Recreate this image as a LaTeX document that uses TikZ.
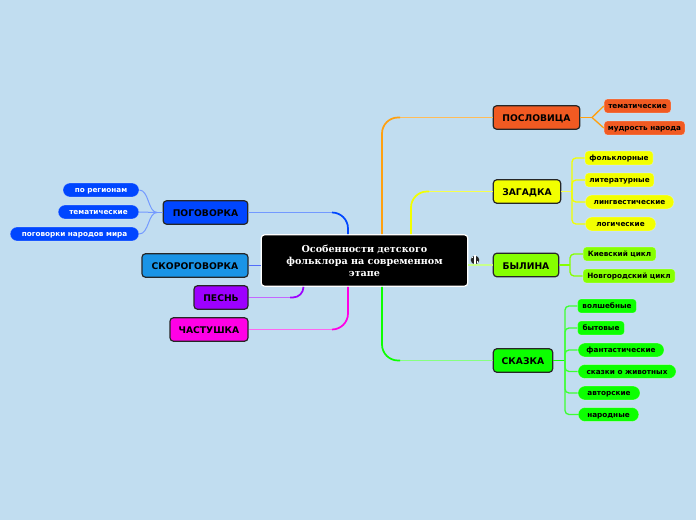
\documentclass[tikz,border=0pt]{standalone}
\usepackage{fontspec}
\setmainfont{DejaVu Sans}
\newfontfamily\rootfont{DejaVu Serif}
\definecolor{paper}{HTML}{C1DDF0}
\definecolor{proverb}{HTML}{F15A22}
\definecolor{riddle}{HTML}{F2FF00}
\definecolor{epic}{HTML}{86FF00}
\definecolor{tale}{HTML}{0CFF00}
\definecolor{saying}{HTML}{0046FF}
\definecolor{twister}{HTML}{1A94E6}
\definecolor{song}{HTML}{9D00FF}
\definecolor{ditty}{HTML}{FF00E6}
\definecolor{amber}{HTML}{FFA010}
\tikzset{
  main/.style={draw=black!85, line width=0.9pt, rounded corners=2.6pt, minimum height=17.6pt, inner sep=0pt, text height=6.2pt, text depth=0pt, align=center, font=\fontsize{6.9}{8}\selectfont\bfseries, text=black},
  leaf/.style={draw=white, draw opacity=0.3, line width=0.5pt, rounded corners=2.4pt, minimum height=10.4pt, inner sep=0pt, text height=5.5pt, text depth=1.2pt, align=center, font=\fontsize{5.45}{6}\selectfont\bfseries, text=black},
  pill/.style={leaf, rounded corners=5.2pt},
  arc link/.style={line width=1.3pt, rounded corners=12pt},
  thick link/.style={line width=1.9pt},
  thin link/.style={line width=0.75pt},
  stub link/.style={line width=1.4pt},
}
\begin{document}
\begin{tikzpicture}[x=0.75pt, y=-0.75pt]
\useasboundingbox[fill=paper] (0,0) rectangle (696,520);
% centre
\coordinate (orange) at (382,260);
\coordinate (yellow) at (411,260);
\coordinate (blue) at (348,260);
\coordinate (purple) at (303.5,260);
\coordinate (orangeend) at (400,117.5);
\coordinate (yellowend) at (429,191.5);
\coordinate (greenend) at (400,360.5);
\coordinate (blueend) at (332,212.5);
\coordinate (purpleend) at (290,297.5);
\coordinate (magentaend) at (332,329.5);
\node[draw=white, fill=black, line width=0.9pt, rounded corners=2.6pt, text=white, minimum width=155pt, minimum height=38.6pt, inner sep=0pt, align=center, font=\rootfont\fontsize{7.2}{9}\selectfont\bfseries] (root) at (364.5,260.5) {Особенности детского\\фольклора на современном\\этапе};
% right side
\node[main, fill=proverb, minimum width=65pt] (pos) at (536.5,117.5) {ПОСЛОВИЦА};
\node[main, fill=riddle, minimum width=50.5pt] (zag) at (527,191.5) {ЗАГАДКА};
\node[main, fill=epic, minimum width=49pt] (byl) at (526,265) {БЫЛИНА};
\node[main, fill=tale, minimum width=44.5pt] (ska) at (523,360.5) {СКАЗКА};
\node[leaf, fill=proverb, minimum width=50pt] (pos1) at (637.5,106) {тематические};
\node[leaf, fill=proverb, minimum width=60.5pt] (pos2) at (644.5,128) {мудрость народа};
\node[leaf, fill=riddle, minimum width=51pt] (zag1) at (619,158) {фольклорные};
\node[leaf, fill=riddle, minimum width=51.5pt] (zag2) at (619.5,180) {литературные};
\node[pill, fill=riddle, minimum width=66.5pt] (zag3) at (629.5,202) {лингвестические};
\node[pill, fill=riddle, minimum width=53pt] (zag4) at (620.5,224) {логические};
\node[leaf, fill=epic, minimum width=54.5pt] (byl1) at (619.5,254) {Киевский цикл};
\node[leaf, fill=epic, minimum width=69pt] (byl2) at (629,276) {Новгородский цикл};
\node[leaf, fill=tale, minimum width=44pt] (ska1) at (607,306) {волшебные};
\node[leaf, fill=tale, minimum width=35pt] (ska2) at (601,328) {бытовые};
\node[pill, fill=tale, minimum width=64.5pt] (ska3) at (621,350) {фантастические};
\node[pill, fill=tale, minimum width=73.5pt] (ska4) at (627,371.5) {сказки о животных};
\node[pill, fill=tale, minimum width=46.5pt] (ska5) at (609,393) {авторские};
\node[pill, fill=tale, minimum width=45.5pt] (ska6) at (608.5,414.5) {народные};
% left side
\node[main, fill=saying, minimum width=63.5pt] (pog) at (205.5,212.5) {ПОГОВОРКА};
\node[main, fill=twister, minimum width=79.5pt] (sko) at (195,265.5) {СКОРОГОВОРКА};
\node[main, fill=song, minimum width=40.5pt] (pes) at (221,297.5) {ПЕСНЬ};
\node[main, fill=ditty, minimum width=58.5pt] (cha) at (209,329.5) {ЧАСТУШКА};
\node[pill, fill=saying, text=white, minimum width=57pt] (pog1) at (101,190) {по регионам};
\node[pill, fill=saying, text=white, minimum width=60.5pt] (pog2) at (98.5,212) {тематические};
\node[pill, fill=saying, text=white, minimum width=96.5pt] (pog3) at (74.5,234) {поговорки народов мира};
% icon
\node[circle, fill=black!85, minimum size=6.4pt, inner sep=0pt] (globe) at (475,260) {};
\fill[white] (474.3,255.5) rectangle (475.7,264.5);
\fill[white] (472,257) rectangle (473.2,258.5);
\fill[white] (477,261) rectangle (478.4,263);
% links from the centre
\draw[thin link, amber!70!white] (orangeend) -- (pos.west);
\draw[arc link, amber] (orange |- root.north) |- (orangeend);
\draw[thick link, amber] (orange |- root.north) -- (382,135);
\draw[thin link, riddle!70!white] (yellowend) -- (zag.west);
\draw[arc link, riddle] (yellow |- root.north) |- (yellowend);
\draw[thick link, riddle] (yellow |- root.north) -- (411,208);
\draw[thin link, epic!45!white, line width=1pt] (root.east |- byl.west) -- (byl.west);
\draw[thin link, tale!50!white, line width=1pt] (greenend) -- (ska.west);
\draw[arc link, tale] (orange |- root.south) |- (greenend);
\draw[thick link, tale] (orange |- root.south) -- (382,343);
\draw[thin link, saying!55!white] (blueend) -- (pog.east);
\draw[arc link, saying] (blue |- root.north) |- (blueend);
\draw[thick link, saying] (blue |- root.north) -- (348,228);
\draw[thin link, twister!30!blue!70!white] (root.west |- sko.east) -- (sko.east);
\draw[thin link, song!60!white] (purpleend) -- (pes.east);
\draw[arc link, song, rounded corners=8pt] (purple |- root.south) |- (purpleend);
\draw[thin link, ditty!60!white] (magentaend) -- (cha.east);
\draw[arc link, ditty] (blue |- root.south) |- (magentaend);
\draw[thick link, ditty] (blue |- root.south) -- (348,313);
% links to the leaves
\draw[stub link, amber] (pos.east) -- (592,117.5);
\foreach \n in {pos1,pos2} \draw[thin link, amber, line width=1pt] (592,117.5) -- (\n.west);
\draw[thin link, riddle!70!white] (zag.east) -- (572,191.5);
\foreach \n in {zag1,zag2,zag3,zag4} \draw[thin link, riddle, line width=1pt, rounded corners=3pt] (572,191.5) |- (\n.west);
\draw[stub link, epic] (byl.east) -- (570,265);
\foreach \n in {byl1,byl2} \draw[thin link, epic, line width=1pt, rounded corners=3pt] (570,265) |- (\n.west);
\draw[stub link, tale] (ska.east) -- (565,360.5);
\foreach \n in {ska1,ska2,ska3,ska4,ska5,ska6} \draw[thin link, tale!80!white, line width=1pt, rounded corners=3pt] (565,360.5) |- (\n.west);
\draw[stub link, saying!55!white] (pog.west) -- (157,212.5);
\foreach \n in {pog1,pog2,pog3} \draw[thin link, saying!55!white] (157,212.5) .. controls (148,212.5) and (149,212 |- \n.east) .. (\n.east);
\end{tikzpicture}
\end{document}
